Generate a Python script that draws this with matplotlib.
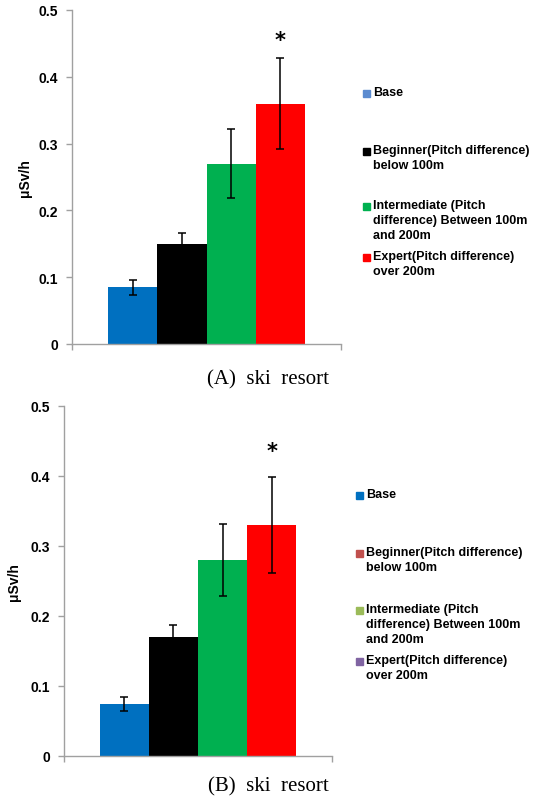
import matplotlib
matplotlib.use("Agg")
import matplotlib.pyplot as plt
from matplotlib.patches import Rectangle

# data (uSv/h)
groups = ["Base", "Beginner", "Intermediate", "Expert"]
bar_colors = ["#0070C0", "#000000", "#00B050", "#FF0000"]

means_a = [0.085, 0.150, 0.270, 0.360]
errs_a = [0.011, 0.016, 0.052, 0.068]
star_a = 0.455

means_b = [0.075, 0.170, 0.280, 0.330]
errs_b = [0.010, 0.017, 0.052, 0.069]
star_b = 0.435

legend_labels = [
    "Base",
    "Beginner(Pitch difference)\nbelow 100m",
    "Intermediate (Pitch\ndifference) Between 100m\nand 200m",
    "Expert(Pitch difference)\nover 200m",
]
# legend swatches as they appear (panel B uses Excel default colours)
legend_colors_a = ["#5B8BD0", "#000000", "#00B050", "#FF0000"]
legend_colors_b = ["#0070C0", "#C0504D", "#9BBB59", "#8064A2"]

W, H = 534, 803
fig = plt.figure(figsize=(W / 100, H / 100), dpi=100)
fig.patch.set_facecolor("white")


def px_axes(left, right, top, bottom):
    return fig.add_axes([left / W, 1 - bottom / H, (right - left) / W, (bottom - top) / H])


def draw_panel(ax, means, errs, star_y):
    n = len(means)
    bw = 0.183
    xs = [(i - (n - 1) / 2) * bw for i in range(n)]
    ax.bar(xs, means, width=bw, color=bar_colors, edgecolor="none", zorder=2)
    ax.errorbar(xs, means, yerr=errs, fmt="none", ecolor="black",
                elinewidth=1.1, capsize=3, capthick=1.1, zorder=3)
    ax.text(xs[-1], star_y, "*", ha="center", va="center",
            fontsize=15, fontweight="bold", family="DejaVu Sans")
    ax.set_xlim(-0.5, 0.5)
    ax.set_ylim(0, 0.5)
    ax.set_yticks([0, 0.1, 0.2, 0.3, 0.4, 0.5])
    ax.set_yticklabels(["0", "0.1", "0.2", "0.3", "0.4", "0.5"],
                       fontsize=10, fontweight="bold", family="Liberation Sans")
    ax.set_xticks([-0.5, 0.5])
    ax.set_xticklabels([])
    for s in ("top", "right"):
        ax.spines[s].set_visible(False)
    for s in ("left", "bottom"):
        ax.spines[s].set_color("#A0A0A0")
        ax.spines[s].set_linewidth(1.0)
    ax.tick_params(axis="both", colors="#A0A0A0", length=4, width=1.0, direction="out")
    ax.tick_params(axis="y", labelcolor="black", pad=6)


def draw_legend(x_sq, x_txt, ys, colors):
    for lab, y, c in zip(legend_labels, ys, colors):
        fig.patches.append(Rectangle((x_sq / W, 1 - (y + 3) / H), 7 / W, 7 / H,
                                     transform=fig.transFigure, color=c, figure=fig))
        fig.text(x_txt / W, 1 - (y - 8) / H, lab, ha="left", va="top",
                 fontsize=9, fontweight="bold", family="Liberation Sans",
                 linespacing=1.35)


ax_a = px_axes(72, 341, 11, 345)
draw_panel(ax_a, means_a, errs_a, star_a)
ax_a.set_ylabel("μSv/h", fontsize=10, fontweight="bold", family="Liberation Sans")
ax_a.yaxis.set_label_coords(-0.15, 0.5)

ax_b = px_axes(64, 332, 407, 757)
draw_panel(ax_b, means_b, errs_b, star_b)
ax_b.set_ylabel("μSv/h", fontsize=10, fontweight="bold", family="Liberation Sans")
ax_b.yaxis.set_label_coords(-0.16, 0.5)

draw_legend(363, 373, [95, 153, 208, 259], legend_colors_a)
draw_legend(356, 366, [497, 555, 612, 663], legend_colors_b)

fig.text(268 / W, 1 - 380 / H, "(A)  ski  resort", ha="center", va="center",
         fontsize=15, family="Liberation Serif")
fig.text(268 / W, 1 - 787 / H, "(B)  ski  resort", ha="center", va="center",
         fontsize=15, family="Liberation Serif")

fig.savefig("out.png", dpi=100)
